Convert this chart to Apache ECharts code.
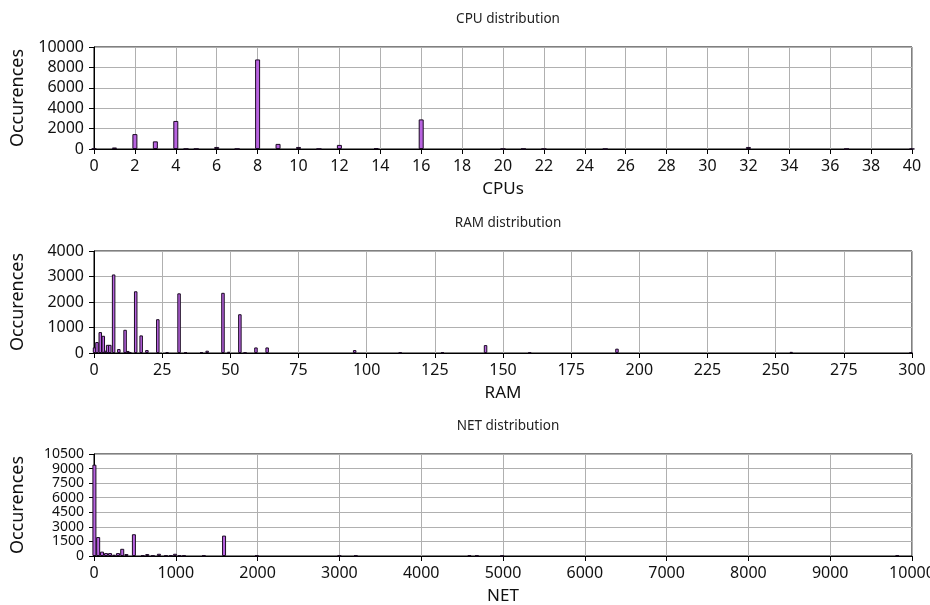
<!DOCTYPE html>
<html>
<head>
<meta charset="utf-8">
<title>Resource distributions</title>
<script src="https://cdn.jsdelivr.net/npm/echarts@6/dist/echarts.min.js"></script>
<style>
  html, body { margin: 0; padding: 0; background: #fff; }
  #chart { width: 930px; height: 605px; }
</style>
</head>
<body>
<div id="chart"></div>
<script>
// CPU count histogram: [cpus, occurrences]
const cpuBins = [0, 1, 2, 3, 4, 4.5, 5, 6, 7, 8, 9, 10, 11, 12, 13.8, 16, 20, 21, 22, 25, 32, 36.8, 40];
const cpuCounts = [40, 150, 1460, 750, 2750, 20, 20, 200, 10, 8780, 500, 200, 10, 400, 80, 2900, 15, 20, 15, 10, 200, 15, 10];

// RAM histogram: [GB, occurrences]
const ramBins = [0.2, 1.1, 2.3, 3.4, 4.2, 5.0, 5.8, 7.2, 9.1, 11.4, 12.4, 13.2, 15.3, 17.3, 19.4, 23.4, 26.8, 31.2, 33.6,
                 39.4, 41.5, 47.3, 49.4, 53.5, 55.4, 59.4, 63.5, 95.6, 112.3, 127.8, 143.6, 159.8, 191.8, 255.7, 299.6];
const ramCounts = [220, 430, 820, 675, 90, 320, 320, 3080, 155, 910, 80, 40, 2420, 690, 115, 1325, 35, 2340, 30,
                   30, 90, 2360, 50, 1520, 20, 218, 218, 115, 20, 25, 310, 25, 170, 45, 30];

// Network histogram: [NET, occurrences]
const netBins = [5, 51, 98, 147, 196, 245, 294, 345, 396, 488, 596, 651, 720, 794, 880, 940, 991, 1045, 1100,
                 1342, 1590, 1990, 3000, 3200, 4590, 4680, 4990, 9820];
const netCounts = [9400, 1950, 450, 300, 300, 130, 300, 740, 200, 2240, 70, 200, 50, 230, 60, 60, 230, 70, 70,
                   60, 2100, 50, 40, 50, 80, 50, 30, 80];

// Y-axis tick labels of each panel
const cpuYTicks = [0, 2000, 4000, 6000, 8000, 10000];
const ramYTicks = [0, 1000, 2000, 3000, 4000];
const netYTicks = [0, 1500, 3000, 4500, 6000, 7500, 9000, 10500];

const panels = [
  { title: 'CPU distribution', xName: 'CPUs', bins: cpuBins, counts: cpuCounts, yTicks: cpuYTicks,
    xMax: 40, xStep: 2, yMax: 10000, yStep: 2000, barWidth: 5, yFont: 16 },
  { title: 'RAM distribution', xName: 'RAM', bins: ramBins, counts: ramCounts, yTicks: ramYTicks,
    xMax: 300, xStep: 25, yMax: 4000, yStep: 1000, barWidth: 3.5, yFont: 16 },
  { title: 'NET distribution', xName: 'NET', bins: netBins, counts: netCounts, yTicks: netYTicks,
    xMax: 10000, xStep: 1000, yMax: 10500, yStep: 1500, barWidth: 4, yFont: 14 }
];

const FONT = 'Noto Sans';
const gridTops = [47, 251, 454];
const gridHeight = 102;
const gridLeft = 94;
const gridRight = 18;

const gridLineStyle = { color: '#b0b0b0', width: 1 };
const plain = v => String(v);

const option = {
  animation: false,
  backgroundColor: '#ffffff',
  textStyle: { fontFamily: FONT },
  title: panels.map((p, i) => ({
    text: p.title,
    left: 503,
    top: gridTops[i] - 40,
    textAlign: 'center',
    textStyle: { fontFamily: FONT, fontSize: 13.5, fontWeight: 'normal', color: '#222' }
  })),
  grid: panels.map((p, i) => ({
    left: gridLeft,
    right: gridRight,
    top: gridTops[i],
    height: gridHeight,
    outerBoundsMode: 'none',
    containLabel: false,
    show: true,
    borderColor: '#000',
    borderWidth: 1,
    backgroundColor: 'transparent'
  })),
  xAxis: panels.map((p, i) => ({
    type: 'value',
    gridIndex: i,
    min: 0,
    max: p.xMax,
    interval: p.xStep,
    name: p.xName,
    nameLocation: 'middle',
    nameGap: 32,
    nameTextStyle: { fontFamily: FONT, fontSize: 17, color: '#111' },
    axisLine: { show: true, onZero: false, lineStyle: { color: '#000', width: 1 } },
    axisTick: { show: true, inside: false, length: 5, lineStyle: { color: '#000' } },
    axisLabel: { fontFamily: FONT, fontSize: 16, color: '#111', margin: 9, formatter: plain,
                 showMinLabel: true, showMaxLabel: true, hideOverlap: false },
    splitLine: { show: true, lineStyle: gridLineStyle }
  })),
  yAxis: panels.map((p, i) => ({
    type: 'value',
    gridIndex: i,
    min: 0,
    max: p.yMax,
    interval: p.yStep,
    name: 'Occurences',
    nameLocation: 'middle',
    nameGap: 67,
    nameRotate: 90,
    nameTextStyle: { fontFamily: FONT, fontSize: 18, color: '#111' },
    axisLine: { show: true, lineStyle: { color: '#000', width: 1 } },
    axisTick: { show: true, inside: false, length: 5, lineStyle: { color: '#000' } },
    axisLabel: {
      fontFamily: FONT, fontSize: p.yFont, color: '#111', margin: 10, lineHeight: p.yFont - 2,
      customValues: p.yTicks,
      formatter: plain,
      minMargin: 0,
      showMinLabel: true, showMaxLabel: true, hideOverlap: false
    },
    splitLine: { show: true, lineStyle: gridLineStyle }
  })),
  series: panels.map((p, i) => ({
    type: 'bar',
    name: p.title,
    xAxisIndex: i,
    yAxisIndex: i,
    barWidth: p.barWidth,
    itemStyle: { color: '#b863e0', borderColor: '#1a0a22', borderWidth: 1 },
    data: p.bins.map((b, k) => [b, p.counts[k]])
  }))
};

const chart = echarts.init(document.getElementById('chart'), null, { renderer: 'canvas' });
chart.setOption(option);
</script>
</body>
</html>
